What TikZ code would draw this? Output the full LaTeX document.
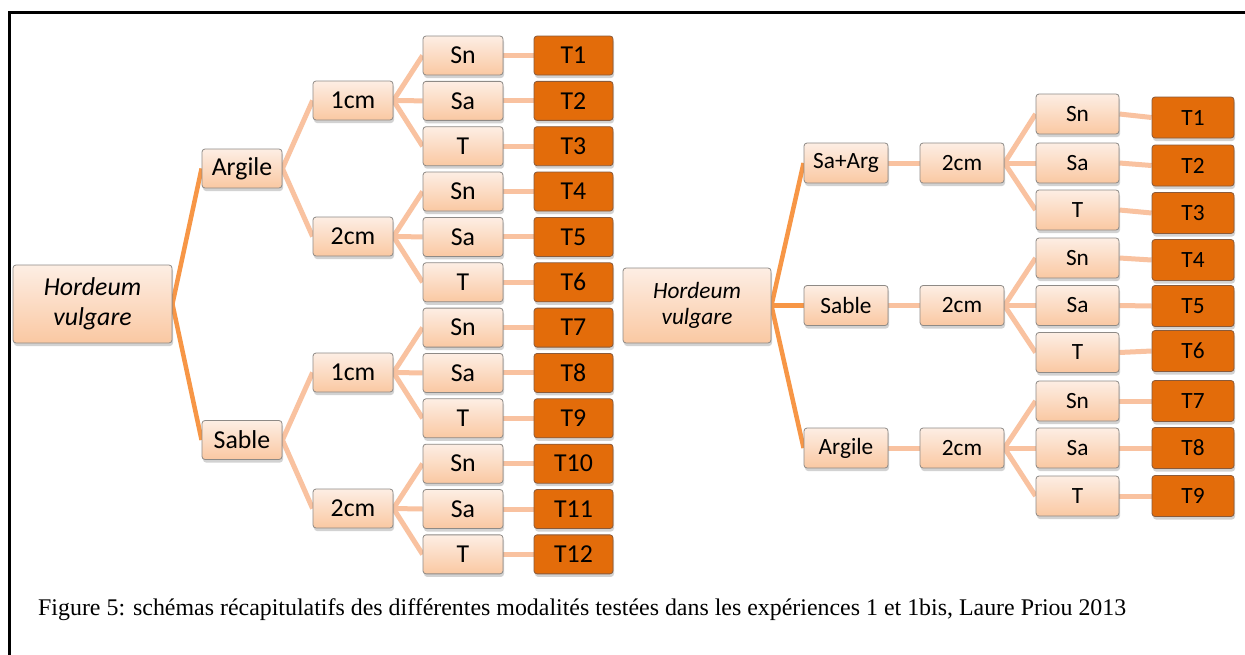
\documentclass[tikz,border=0pt]{standalone}
\usepackage{fontspec}
\setmainfont{Carlito}
\newfontfamily\capfont{Liberation Serif}
\usetikzlibrary{shadows,backgrounds}
\definecolor{ltop}{HTML}{FDEEE4}
\definecolor{lbot}{HTML}{FAC8A2}
\definecolor{bordergray}{HTML}{8E8A86}
\definecolor{tfill}{HTML}{E36C0A}
\definecolor{tborder}{HTML}{8A5A3A}
\definecolor{thick}{HTML}{F79646}
\definecolor{thin}{HTML}{F9C2A0}
\begin{document}
\begin{tikzpicture}[x=1pt,y=-1pt,
  basebox/.style={rounded corners=3pt, line width=0.8pt, inner sep=0pt,
    drop shadow={shadow xshift=1pt, shadow yshift=-3pt, opacity=0.35, fill=gray}},
  lbox/.style={basebox, draw=bordergray, top color=ltop, bottom color=lbot,
    minimum width=80pt, minimum height=39pt, font=\fontsize{25.8}{30}\selectfont},
  tbox/.style={basebox, draw=tborder, fill=tfill,
    minimum width=79pt, minimum height=39pt, font=\fontsize{25.8}{30}\selectfont},
  rlbox/.style={lbox, minimum width=84pt, minimum height=40pt, font=\fontsize{23.3}{27}\selectfont},
  rleaf/.style={lbox, minimum width=83pt, minimum height=40pt, font=\fontsize{23.3}{27}\selectfont},
  rtbox/.style={tbox, minimum width=82pt, minimum height=41pt, font=\fontsize{23.3}{27}\selectfont},
  thickline/.style={draw=thick, line width=4.5pt},
  thinline/.style={draw=thin, line width=5pt}
]
\useasboundingbox (0,0) rectangle (1245,654);

% ---------- left tree ----------
\node[lbox, minimum width=159pt, minimum height=78pt, align=center,
  font=\fontsize{25.8}{30}\selectfont\itshape] (H1) at (92.5,304) {Hordeum\\vulgare};
\node[lbox] (LA) at (242,168.5) {Argile};
\node[lbox] (LS) at (242,440) {Sable};
\node[lbox] (LA1) at (353,100.5) {1cm};
\node[lbox] (LA2) at (353,236.5) {2cm};
\node[lbox] (LS1) at (353,372.5) {1cm};
\node[lbox] (LS2) at (353,508.5) {2cm};
\foreach \i/\lab in {1/Sn,2/Sa,3/T,4/Sn,5/Sa,6/T,7/Sn,8/Sa,9/T,10/Sn,11/Sa,12/T}{
  \node[lbox] (LL\i) at (463,{55.5+45.35*(\i-1)}) {\lab};
  \node[tbox] (LT\i) at (573.5,{55.5+45.35*(\i-1)}) {T\i};
}

% ---------- right tree ----------
\node[lbox, minimum width=148pt, minimum height=75pt, align=center,
  font=\fontsize{23.3}{26}\selectfont\itshape] (H2) at (697,305.5) {Hordeum\\vulgare};
\node[rlbox] (RA) at (846,163) {Sa+Arg};
\node[rlbox] (RB) at (846,305.5) {Sable};
\node[rlbox] (RC) at (846,448) {Argile};
\node[rlbox] (RA2) at (962,163) {2cm};
\node[rlbox] (RB2) at (962,305.5) {2cm};
\node[rlbox] (RC2) at (962,448) {2cm};
\foreach \i/\lab/\y/\ty in {1/Sn/114/117.5, 2/Sa/163/165.5, 3/T/210/213,
   4/Sn/258/260, 5/Sa/305.5/306, 6/T/352.5/351, 7/Sn/401/401, 8/Sa/448/448, 9/T/496/496}{
  \node[rleaf] (RL\i) at (1077.5,\y) {\lab};
  \node[rtbox] (RT\i) at (1193,\ty) {T\i};
}

% caption
\node[anchor=base west, inner sep=0pt, font=\capfont\fontsize{23.9}{26}\selectfont] (cap) at (38,615)
  {Figure 5: schémas récapitulatifs des différentes modalités testées dans les expériences 1 et 1bis, Laure Priou 2013};

\begin{scope}[on background layer]
\fill[white] (0,0) rectangle (1245,654);
% frame
\draw[line width=3pt, black] (1246,12.5) -- (9,12.5) -- (9,655);
% left connectors
\draw[thickline] (H1.east) -- (LA.west);
\draw[thickline] (H1.east) -- (LS.west);
\draw[thinline] (LA.east) -- (LA1.west);
\draw[thinline] (LA.east) -- (LA2.west);
\draw[thinline] (LS.east) -- (LS1.west);
\draw[thinline] (LS.east) -- (LS2.west);
\foreach \p/\a/\b/\c in {LA1/1/2/3, LA2/4/5/6, LS1/7/8/9, LS2/10/11/12}{
  \draw[thinline] (\p.east) -- (LL\a.west);
  \draw[thinline] (\p.east) -- (LL\b.west);
  \draw[thinline] (\p.east) -- (LL\c.west);
}
\foreach \i in {1,...,12}{
  \draw[thinline] (LL\i.east) -- (LT\i.west);
}
% right connectors
\draw[thickline] (H2.east) -- (RA.west);
\draw[thickline] (H2.east) -- (RB.west);
\draw[thickline] (H2.east) -- (RC.west);
\draw[thinline] (RA.east) -- (RA2.west);
\draw[thinline] (RB.east) -- (RB2.west);
\draw[thinline] (RC.east) -- (RC2.west);
\foreach \p/\a/\b/\c in {RA2/1/2/3, RB2/4/5/6, RC2/7/8/9}{
  \draw[thinline] (\p.east) -- (RL\a.west);
  \draw[thinline] (\p.east) -- (RL\b.west);
  \draw[thinline] (\p.east) -- (RL\c.west);
}
\foreach \i in {1,...,9}{
  \draw[thinline] (RL\i.east) -- (RT\i.west);
}
\end{scope}
\end{tikzpicture}
\end{document}
